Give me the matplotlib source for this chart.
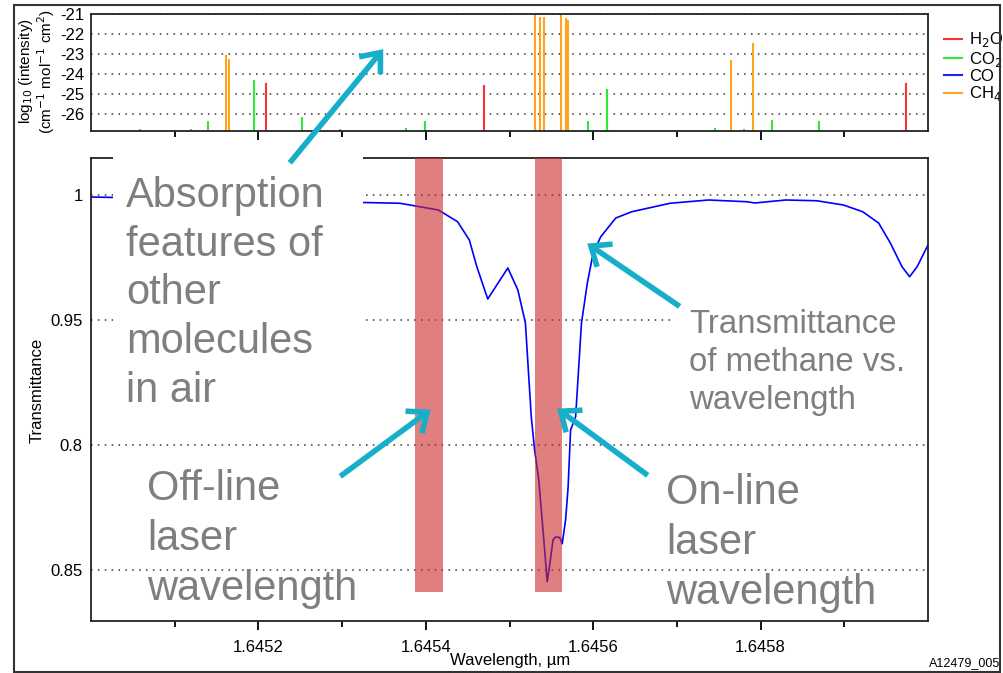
import numpy as np
import matplotlib
matplotlib.use("Agg")
import matplotlib.pyplot as plt
from matplotlib.lines import Line2D
from matplotlib.patches import Rectangle, FancyArrowPatch

plt.rcParams['font.family'] = ['Liberation Sans', 'DejaVu Sans']
plt.rcParams['axes.unicode_minus'] = False

W, H = 1004, 673

# line list (wavelength um, log10 intensity) per molecule
h2o_wl = [1.645209, 1.645470, 1.645974]
h2o_int = [-24.44, -24.53, -24.46]
co2_wl = [1.645058, 1.645119, 1.645140, 1.645195, 1.645252, 1.645297, 1.645376,
          1.645399, 1.645594, 1.645616, 1.645745, 1.645780, 1.645814, 1.645870]
co2_int = [-26.77, -26.77, -26.37, -24.29, -26.14, -26.77, -26.70,
           -26.37, -26.37, -24.76, -26.70, -26.77, -26.30, -26.37]
ch4_wl = [1.645161, 1.645165, 1.645531, 1.645537, 1.645541, 1.645562, 1.645568,
          1.645570, 1.645765, 1.645791]
ch4_int = [-23.07, -23.24, -20.9, -21.14, -21.14, -20.9, -21.19,
           -21.28, -23.32, -22.45]

# transmittance curve
wl = [1.645000, 1.645325, 1.645369, 1.645415, 1.645438, 1.645452, 1.645461,
      1.645474, 1.645498, 1.645510, 1.645519, 1.645526, 1.645530, 1.645535,
      1.645539, 1.645542, 1.645545, 1.645548, 1.645552, 1.645555, 1.645560,
      1.645563, 1.645567, 1.645570, 1.645573, 1.645579, 1.645586, 1.645593,
      1.645600, 1.645609, 1.645627, 1.645646, 1.645692, 1.645738, 1.645784,
      1.645793, 1.645830, 1.645867, 1.645899, 1.645922, 1.645941, 1.645955,
      1.645969, 1.645978, 1.645987, 1.646000]
trans = [0.9992, 0.9970, 0.9967, 0.9940, 0.9893, 0.9820, 0.9713,
         0.9584, 0.9708, 0.9620, 0.9488, 0.9113, 0.8980, 0.8860,
         0.8700, 0.8580, 0.8453, 0.8520, 0.8620, 0.8632, 0.8630,
         0.8605, 0.8700, 0.8830, 0.9060, 0.9113, 0.9488, 0.9648,
         0.9768, 0.9833, 0.9908, 0.9933, 0.9967, 0.9980, 0.9973,
         0.9968, 0.9980, 0.9977, 0.9960, 0.9933, 0.9888, 0.9808,
         0.9713, 0.9673, 0.9713, 0.9800]

offline_band = (1.645387, 1.645421)
online_band = (1.645530, 1.645563)
band_bottom = 0.8412

grid_T = [1.0, 0.95, 0.90, 0.85]
grid_T_labels = ['1', '0.95', '0.8', '0.85']
xticks_major = [1.6452, 1.6454, 1.6456, 1.6458]
xticks_minor = [1.6451, 1.6453, 1.6455, 1.6457, 1.6459]


def fx(x):
    return x / W


def fy(y):
    return 1 - y / H


dots = (0, (1, 3.5))

fig = plt.figure(figsize=(W / 100, H / 100), dpi=100)

# ---- top stick spectrum
ax1 = fig.add_axes([fx(91), fy(131), fx(837), 117 / H])
ybot = -26.85
ax1.vlines(h2o_wl, ybot, h2o_int, color='#ff3030', lw=1.5)
ax1.vlines(co2_wl, ybot, co2_int, color='#33e633', lw=1.5)
ax1.vlines(ch4_wl, ybot, ch4_int, color='#ffa41f', lw=1.5)
ax1.set_xlim(1.6450, 1.6460)
ax1.set_ylim(ybot, -21)
ax1.set_yticks([-21, -22, -23, -24, -25, -26])
ax1.set_yticklabels(['-21', '-22', '-23', '-24', '-25', '-26'])
for v in [-21, -22, -23, -24, -25, -26]:
    ax1.axhline(v, color='#333333', lw=1.1, ls=dots, zorder=0)
ax1.set_xticks(xticks_major)
ax1.set_xticks(xticks_minor, minor=True)
ax1.tick_params(axis='x', which='major', length=6.5, width=1.3, labelbottom=False)
ax1.tick_params(axis='x', which='minor', length=4, width=1.3)
ax1.tick_params(axis='y', length=0, pad=4.5, labelsize=12)
for s in ax1.spines.values():
    s.set_linewidth(1.3)
    s.set_color('#222222')

handles = [Line2D([], [], color='#ff3030', lw=1.5),
           Line2D([], [], color='#33e633', lw=1.5),
           Line2D([], [], color='#2020ff', lw=1.5),
           Line2D([], [], color='#ffa41f', lw=1.5)]
labels = ['H$_2$O', 'CO$_2$', 'CO', 'CH$_4$']
ax1.legend(handles, labels, loc='upper left', bbox_to_anchor=(fx(936), fy(22)),
           bbox_transform=fig.transFigure, frameon=False, fontsize=12,
           handlelength=1.05, handletextpad=0.45, labelspacing=0.02, borderpad=0)

fig.text(fx(37), fy(71), 'log$_{10}$ (intensity)\n(cm$^{-1}$ mol$^{-1}$ cm$^2$)',
         rotation=90, ha='center', va='center', fontsize=11, linespacing=1.0)

# ---- lower transmittance plot
ax2 = fig.add_axes([fx(91), fy(621), fx(837), 463 / H])
ax2.plot(wl, trans, color='#0000ff', lw=1.2, zorder=2)
for b in (offline_band, online_band):
    ax2.bar((b[0] + b[1]) / 2, 1.0148 - band_bottom, width=b[1] - b[0],
            bottom=band_bottom, color='#cc2a2a', alpha=0.6, lw=0, zorder=3)
ax2.set_xlim(1.6450, 1.6460)
ax2.set_ylim(0.8296, 1.0148)
ax2.set_yticks(grid_T)
ax2.set_yticklabels(grid_T_labels)
for v in grid_T:
    ax2.axhline(v, color='#333333', lw=1.1, ls=dots, zorder=1)
ax2.set_xticks(xticks_major)
ax2.set_xticklabels([f'{t:.4f}' for t in xticks_major])
ax2.set_xticks(xticks_minor, minor=True)
ax2.tick_params(axis='x', which='major', length=6.5, width=1.3, pad=7.5, labelsize=12)
ax2.tick_params(axis='x', which='minor', length=4, width=1.3)
ax2.tick_params(axis='y', length=0, pad=6, labelsize=12)
for s in ax2.spines.values():
    s.set_linewidth(1.3)
    s.set_color('#222222')

fig.text(fx(37), fy(390), 'Transmittance', rotation=90, ha='center', va='center', fontsize=12)
fig.text(fx(510), fy(661), 'Wavelength, µm', ha='center', va='center', fontsize=12)
fig.text(fx(1000), fy(669), 'A12479_005', ha='right', va='bottom', fontsize=9)

# white boxes behind annotation text
for (x0, y0, x1, y1) in [(113, 150, 363, 430), (674, 296, 926, 418)]:
    ax2.add_patch(Rectangle((fx(x0), fy(y1)), fx(x1 - x0), (y1 - y0) / H,
                            transform=fig.transFigure, facecolor='white',
                            edgecolor='none', zorder=4, clip_on=False))

gray = '#7f7f7f'
ax2.text(fx(126), fy(176), 'Absorption\nfeatures of\nother\nmolecules\nin air',
         transform=fig.transFigure, fontsize=30, color=gray, va='top', ha='left',
         linespacing=1.28, zorder=5)
ax2.text(fx(147), fy(469), 'Off-line\nlaser\nwavelength', transform=fig.transFigure,
         fontsize=30, color=gray, va='top', ha='left', linespacing=1.32, zorder=5)
ax2.text(fx(666), fy(473), 'On-line\nlaser\nwavelength', transform=fig.transFigure,
         fontsize=30, color=gray, va='top', ha='left', linespacing=1.32, zorder=5)
ax2.text(fx(689), fy(309), 'Transmittance\nof methane vs.\nwavelength',
         transform=fig.transFigure, fontsize=23.8, color=gray, va='top', ha='left',
         linespacing=1.3, zorder=5)

cyan = '#17aec9'
arrows = [((288, 165), (385, 47)), ((338, 478), (433, 408)),
          ((650, 477), (555, 407)), ((682, 308), (585, 242))]
for (t, h) in arrows:
    a = FancyArrowPatch((fx(t[0]), fy(t[1])), (fx(h[0]), fy(h[1])),
                        transform=fig.transFigure, arrowstyle='->,head_length=0.55,head_width=0.45',
                        mutation_scale=22, color=cyan, lw=4, capstyle='butt',
                        joinstyle='miter', zorder=6)
    fig.add_artist(a)

# outer frame
fig.add_artist(Rectangle((fx(14), fy(672)), fx(986), 667 / H, transform=fig.transFigure,
                         facecolor='none', edgecolor='#333333', lw=1.5))

fig.savefig('out.png', dpi=100)
